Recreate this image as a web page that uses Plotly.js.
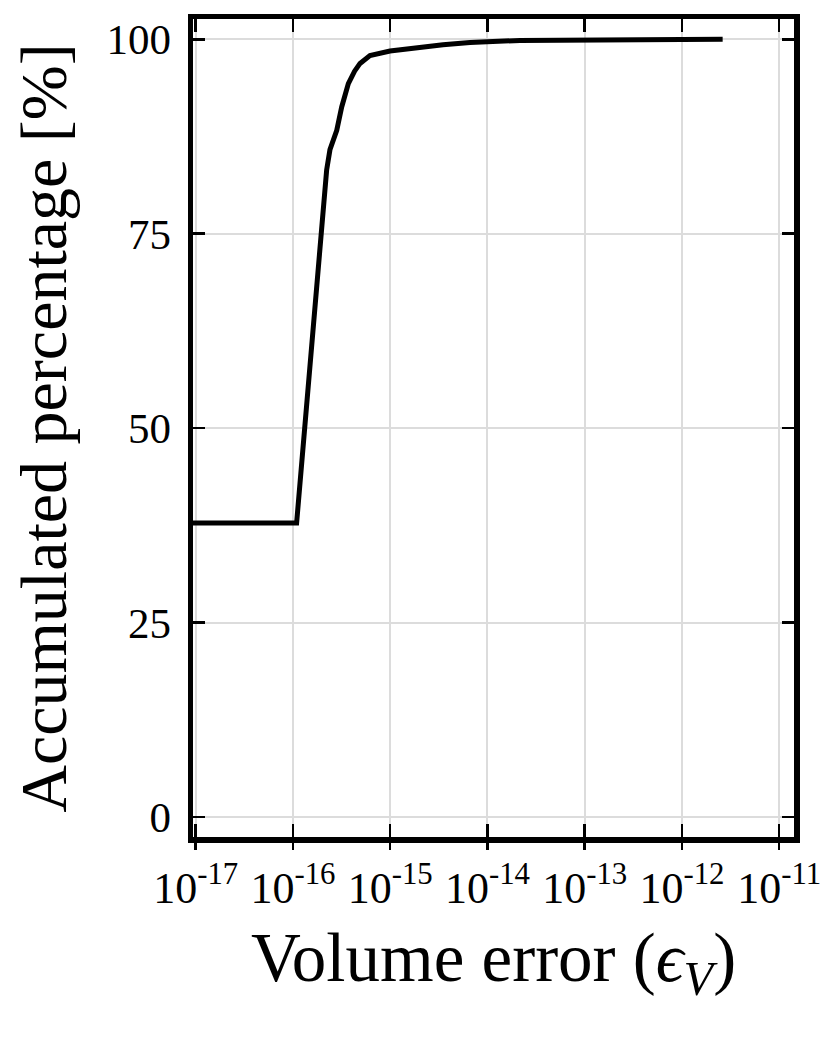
<!DOCTYPE html>
<html>
<head>
<meta charset="utf-8">
<script src="https://cdn.plot.ly/plotly-3.0.1.min.js"></script>
<style>html,body{margin:0;padding:0;background:#fff;}#chart{width:830px;height:1038px;}</style>
</head>
<body>
<div id="chart"></div>
<script>
// Volume error (x) vs accumulated percentage (y)
var volumeError = [8.95e-18, 1.09e-16, 2.22e-16, 2.40e-16, 2.82e-16, 3.17e-16, 3.71e-16, 4.30e-16, 4.89e-16, 6.19e-16, 9.95e-16, 2.02e-15, 3.49e-15, 6.61e-15, 2.16e-14, 1.44e-13, 2.62e-12];
var accumulatedPct = [37.8, 37.8, 83.2, 85.8, 88.3, 91.3, 94.3, 95.9, 96.9, 97.9, 98.5, 99.0, 99.3, 99.6, 99.85, 99.9, 100.0];

var xTickVals = [1e-17, 1e-16, 1e-15, 1e-14, 1e-13, 1e-12, 1e-11];
var xTickText = ['10<sup>-17</sup>', '10<sup>-16</sup>', '10<sup>-15</sup>', '10<sup>-14</sup>', '10<sup>-13</sup>', '10<sup>-12</sup>', '10<sup>-11</sup>'];
var yTickVals = [0, 25, 50, 75, 100];
var yTickText = ['0', '25', '50', '75', '100'];

var xTitle = 'Volume error (<i>ϵ</i><sub><i>V</i></sub>)';
var yTitle = 'Accumulated percentage [%]';

var FONT = 'Liberation Serif, Times New Roman, serif';
var xRange = [-17.028, -10.848];
var yRange = [-2.57, 102.61];

var traces = [
  {
    x: volumeError, y: accumulatedPct, type: 'scatter', mode: 'lines',
    line: {color: '#000000', width: 5}, xaxis: 'x', yaxis: 'y', showlegend: false,
    cliponaxis: true
  },
  {
    x: [], y: [], type: 'scatter', mode: 'lines', xaxis: 'x2', yaxis: 'y', showlegend: false
  }
];

var layout = {
  width: 830, height: 1038,
  paper_bgcolor: '#ffffff', plot_bgcolor: '#ffffff',
  margin: {l: 193, r: 36, t: 19, b: 201, pad: 0},
  showlegend: false,
  font: {family: FONT, color: '#000000', size: 44},
  xaxis: {
    type: 'log', range: xRange,
    tickvals: xTickVals, ticktext: xTickText, showticklabels: false,
    ticks: 'inside', ticklen: 13, tickwidth: 2.5, tickcolor: '#000',
    showline: true, linecolor: '#000', linewidth: 5.5, mirror: 'ticks',
    showgrid: true, gridcolor: '#dcdcdc', gridwidth: 2, zeroline: false
  },
  xaxis2: {
    type: 'log', range: xRange, overlaying: 'x', side: 'bottom', anchor: 'y',
    tickvals: xTickVals, ticktext: xTickText, showticklabels: true,
    ticks: 'outside', ticklen: 12, tickwidth: 2.5, tickcolor: '#000',
    tickfont: {family: FONT, size: 44, color: '#000'},
    showline: false, showgrid: false, zeroline: false,
    title: {text: xTitle, font: {family: FONT, size: 69, color: '#000'}, standoff: 20}
  },
  yaxis: {
    range: yRange,
    tickvals: yTickVals, ticktext: yTickText,
    tickfont: {family: FONT, size: 43, color: '#000'},
    ticks: 'inside', ticklen: 12, tickwidth: 2.5, tickcolor: '#000',
    showline: true, linecolor: '#000', linewidth: 5.5, mirror: 'ticks',
    showgrid: true, gridcolor: '#dcdcdc', gridwidth: 2, zeroline: false,
    ticklabelstandoff: 8,
    title: {text: yTitle, font: {family: FONT, size: 66, color: '#000'}, standoff: 20}
  }
};

Plotly.newPlot('chart', traces, layout, {staticPlot: true, displayModeBar: false});
</script>
</body>
</html>
